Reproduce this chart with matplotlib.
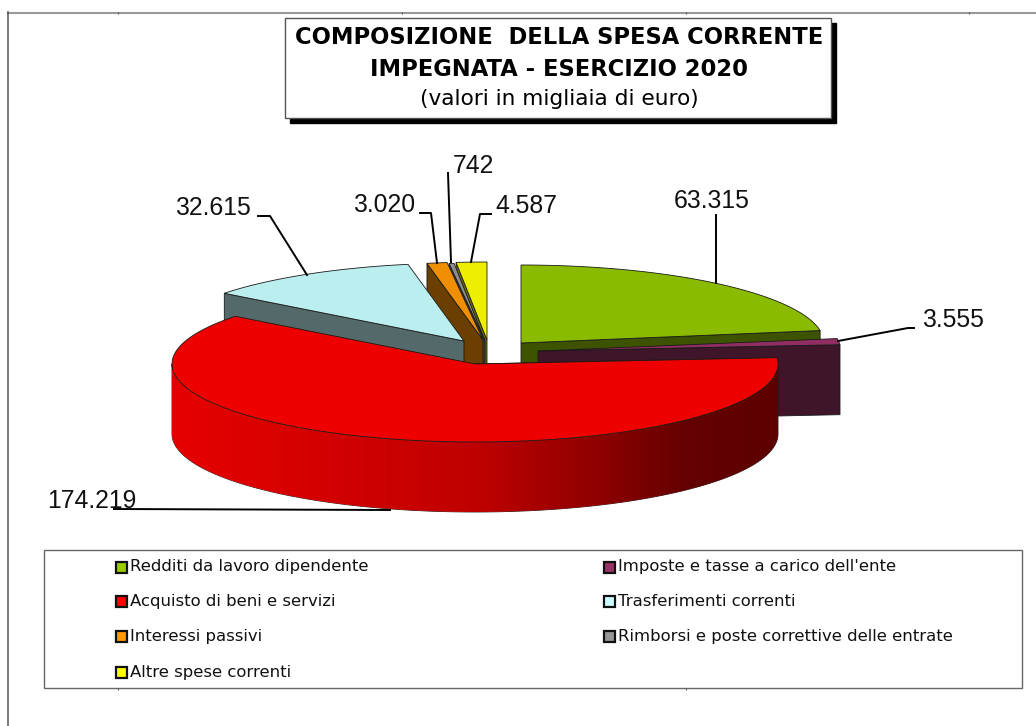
import numpy as np
import matplotlib
matplotlib.use('Agg')
import matplotlib.pyplot as plt
from matplotlib.colors import LinearSegmentedColormap
from matplotlib.patches import Rectangle, Polygon

categories = ['Redditi da lavoro dipendente', "Imposte e tasse a carico dell'ente",
              'Acquisto di beni e servizi', 'Trasferimenti correnti', 'Interessi passivi',
              'Rimborsi e poste correttive delle entrate', 'Altre spese correnti']
values = [63315, 3555, 174219, 32615, 3020, 742, 4587]
value_labels = ['63.315', '3.555', '174.219', '32.615', '3.020', '742', '4.587']
top_colors = ['#8ABB00', '#8E2E62', '#EE0000', '#BBEEEE', '#EE8E00', '#8E8E8E', '#EEEE00']
wall_colors = ['#3E5300', '#3E1529', '#6A0000', '#546A6A', '#6A3F00', '#3F3F3F', '#6A6A00']
legend_colors = ['#99CC00', '#993366', '#FF0000', '#CCFFFF', '#FF9900', '#969696', '#FFFF00']

# apex of every exploded slice, in pixels
apex_x = [521, 538, 475, 464, 483, 485, 487]
apex_y = [343, 351, 364, 341, 340, 341, 340]
rx, ry, depth = 303, 78, 70
draw_order = [0, 6, 5, 4, 3, 1, 2]

fig = plt.figure(figsize=(10.36, 7.26), dpi=100)
ax = fig.add_axes([0, 0, 1, 1])
ax.set_xlim(0, 1036)
ax.set_ylim(726, 0)
ax.axis('off')

# sheet lines left over from the spreadsheet, open at right and bottom
ax.plot([8, 1036], [12.5, 12.5], color='#999999', lw=1.5)
ax.plot([8, 8], [12, 726], color='#555555', lw=1.1)
ax.vlines([118, 402, 686, 969], 12, 14, color='#555555', lw=0.8)
ax.vlines([118, 686], 688, 690, color='#555555', lw=0.8)


def rim(cx, cy, a0, a1, n=120):
    a = np.radians(np.linspace(a0, a1, n))
    return cx + rx * np.sin(a), cy - ry * np.cos(a)


ends = np.cumsum(values) / np.sum(values) * 360
starts = np.r_[0, ends[:-1]]
ink = '#1a1a1a'
shade = LinearSegmentedColormap.from_list('shade', [(0, '#E60000'), (0.5, '#C00000'), (0.7, '#900000'),
                                                    (0.85, '#640000'), (1, '#5E0000')])

for i in draw_order:
    cx, cy = apex_x[i], apex_y[i]
    a0, a1 = starts[i], ends[i]
    # visible cut face: end edge on the right half, start edge on the left
    edge = a1 if a1 < 180 else a0
    ex, ey = rim(cx, cy, edge, edge, 1)
    ax.fill([cx, ex[0], ex[0], cx], [cy, ey[0], ey[0] + depth, cy + depth],
            facecolor=wall_colors[i], edgecolor=ink, lw=0.6, zorder=2)
    # outer wall, only the front half of the ellipse shows
    f0, f1 = max(a0, 90), min(a1, 270)
    if f1 > f0:
        x, y = rim(cx, cy, f0, f1)
        wall = Polygon(np.r_[np.c_[x, y], np.c_[x, y + depth][::-1]], closed=True,
                       facecolor='none', edgecolor=ink, lw=0.6, zorder=2)
        ax.add_patch(wall)
        im = ax.imshow(np.linspace(0, 1, 256)[None, :], cmap=shade, aspect='auto',
                       extent=[x.min(), x.max(), y.max() + depth, y.min()], zorder=2)
        im.set_clip_path(wall)
        ax.set_xlim(0, 1036)
        ax.set_ylim(726, 0)
    x, y = rim(cx, cy, a0, a1)
    ax.fill(np.r_[cx, x], np.r_[cy, y], facecolor=top_colors[i], edgecolor=ink, lw=0.6, zorder=2)

# value labels with their leader lines
label_x = [712, 953, 92, 213, 384, 473, 526]
label_y = [201, 320, 501, 208, 205, 166, 206]
leader_x = [[716, 716], [914, 908, 838], [114, 390], [258, 270, 307], [420, 431, 437], [448, 451], [491, 480, 471]]
leader_y = [[215, 283], [328, 328, 341], [509, 510], [216, 216, 275], [213, 213, 263], [173, 262], [214, 214, 262]]
for i in range(len(values)):
    ax.plot(leader_x[i], leader_y[i], color='black', lw=1.4, zorder=3)
    ax.text(label_x[i], label_y[i], value_labels[i], family='Liberation Sans', fontsize=17.8,
            ha='center', va='center', color='#111111', zorder=4)

# title box
ax.add_patch(Rectangle((290, 23), 546, 100, facecolor='black', edgecolor='black', zorder=5))
ax.add_patch(Rectangle((285, 18), 546, 100, facecolor='white', edgecolor='#555555', lw=1, zorder=6))
ax.text(559, 38, 'COMPOSIZIONE  DELLA SPESA CORRENTE', family='DejaVu Sans', weight='bold',
        fontsize=16.3, ha='center', va='center', zorder=7)
ax.text(559, 69, 'IMPEGNATA - ESERCIZIO 2020', family='DejaVu Sans', weight='bold',
        fontsize=16.3, ha='center', va='center', zorder=7)
ax.text(559, 99, '(valori in migliaia di euro)', family='DejaVu Sans',
        fontsize=15.6, ha='center', va='center', zorder=7)

# legend
ax.add_patch(Rectangle((44, 550), 978, 138, facecolor='white', edgecolor='#666666', lw=1, zorder=5))
legend_x = [121, 609]
legend_y = [567, 601.5, 636, 672]
legend_slots = [(0, 0), (1, 0), (0, 1), (1, 1), (0, 2), (1, 2), (0, 3)]
for i, (col, row) in enumerate(legend_slots):
    ax.add_patch(Rectangle((legend_x[col] - 5.5, legend_y[row] - 5.5), 11, 11, facecolor=legend_colors[i],
                           edgecolor='#111111', lw=1.6, zorder=6))
    ax.text(legend_x[col] + 9, legend_y[row], categories[i], family='DejaVu Sans', fontsize=11.85,
            ha='left', va='center', color='#111111', zorder=6)

fig.savefig('out.png', dpi=100)
